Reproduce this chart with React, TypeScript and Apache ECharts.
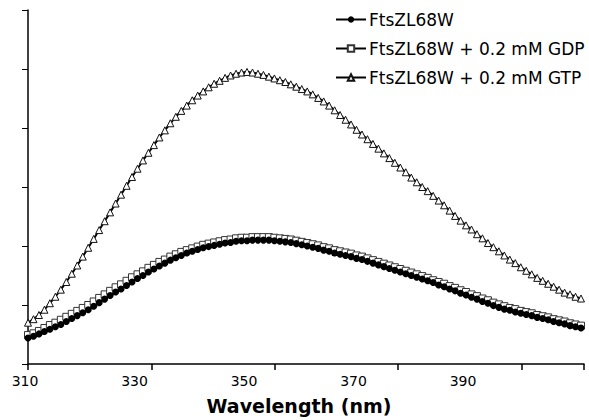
import React, { useEffect, useRef } from "react";
import * as echarts from "echarts";

// Wavelengths (nm), 1 nm steps
const wavelengths: number[] = [];
for (let w = 310; w <= 411; w++) wavelengths.push(w);

const seriesNames = [
  "FtsZL68W",
  "FtsZL68W + 0.2 mM GDP",
  "FtsZL68W + 0.2 mM GTP",
];

const ftsz: number[] = [
  44, 47, 51, 55, 59, 63, 67, 72, 77, 82,
  87, 92, 98, 104, 110, 116, 122, 127, 133, 139,
  145, 150, 156, 161, 166, 171, 176, 180, 184, 188,
  191, 194, 197, 199, 201, 203, 205, 206, 208, 209,
  209, 210, 210, 210, 210, 209, 208, 207, 206, 204,
  202, 200, 198, 196, 193, 191, 188, 186, 184, 182,
  179, 177, 174, 171, 168, 165, 162, 159, 156, 153,
  150, 147, 144, 141, 138, 134, 131, 127, 124, 120,
  117, 113, 110, 106, 103, 99, 96, 93, 91, 88,
  86, 84, 82, 79, 77, 75, 72, 70, 68, 65,
  63, 61,
];

const ftszGDP: number[] = [
  49, 52, 56, 61, 66, 70, 75, 80, 85, 90,
  95, 100, 106, 112, 118, 124, 130, 135, 141, 147,
  152, 157, 163, 168, 173, 177, 182, 186, 190, 193,
  196, 199, 202, 204, 206, 208, 210, 211, 213, 214,
  214, 215, 215, 215, 215, 214, 213, 212, 211, 209,
  207, 205, 203, 201, 198, 196, 193, 191, 189, 187,
  184, 182, 179, 176, 173, 170, 167, 164, 161, 158,
  155, 152, 149, 146, 142, 139, 136, 132, 129, 125,
  122, 118, 115, 111, 108, 104, 101, 98, 95, 93,
  90, 88, 86, 83, 81, 79, 76, 74, 72, 69,
  67, 65,
];

const ftszGTP: number[] = [
  70, 76, 83, 92, 103, 114, 126, 139, 153, 167,
  182, 197, 212, 227, 242, 257, 272, 287, 302, 317,
  331, 345, 358, 371, 384, 396, 408, 419, 429, 438,
  447, 455, 462, 469, 475, 480, 485, 489, 492, 494,
  495, 494, 492, 490, 487, 484, 481, 478, 474, 470,
  466, 462, 457, 451, 445, 438, 430, 422, 414, 406,
  397, 389, 381, 373, 365, 357, 349, 341, 333, 325,
  316, 308, 300, 293, 285, 277, 269, 260, 251, 243,
  235, 228, 220, 213, 205, 198, 191, 184, 177, 171,
  164, 158, 152, 146, 141, 136, 131, 126, 121, 118,
  114, 111,
];

const xTickLabels = [310, 330, 350, 370, 390];

const FONT = "DejaVu Sans";

export default function App() {
  const ref = useRef<HTMLDivElement>(null);
  useEffect(() => {
    if (!ref.current) return;
    const chart = echarts.init(ref.current, null, { renderer: "svg" });
    const pair = (vals: number[]) => wavelengths.map((w, i) => [w, vals[i]]);
    const lineStyle = { color: "#000", width: 2 };
    chart.setOption({
      animation: false,
      backgroundColor: "#fff",
      grid: { left: 28, right: 5, top: 10, bottom: 52 },
      legend: {
        orient: "vertical",
        left: 330,
        top: 6,
        itemWidth: 30,
        itemHeight: 8,
        itemGap: 12,
        data: seriesNames,
        textStyle: { fontFamily: FONT, fontSize: 17, color: "#000", padding: [0, 0, 0, -2] },
      },
      xAxis: [
        {
          type: "value",
          min: 310,
          max: 411.55,
          interval: 20,
          position: "bottom",
          axisLine: { show: true, lineStyle: { color: "#000", width: 1.5 } },
          axisTick: { show: false },
          splitLine: { show: false },
          axisLabel: {
            show: true,
            color: "#000",
            fontFamily: FONT,
            fontSize: 14,
            margin: 10,
            padding: [0, 6, 0, 0],
            formatter: (v: number) => (xTickLabels.includes(v) ? String(v) : ""),
          },
          name: "Wavelength (nm)",
          nameLocation: "middle",
          nameGap: 32,
          nameTextStyle: {
            fontFamily: FONT,
            fontSize: 19,
            fontWeight: "bold",
            color: "#000",
            padding: [0, 14, 0, 0],
          },
        },
        {
          type: "value",
          min: 0,
          max: 4.506,
          interval: 1,
          position: "bottom",
          axisLine: { show: false },
          axisLabel: { show: false },
          splitLine: { show: false },
          axisTick: { show: true, length: 6, lineStyle: { color: "#000", width: 1.5 } },
        },
      ],
      yAxis: {
        type: "value",
        min: 0,
        max: 600,
        interval: 100,
        axisLine: { show: true, lineStyle: { color: "#000", width: 1.5 } },
        axisTick: { show: true, length: 6, lineStyle: { color: "#000", width: 1 } },
        axisLabel: { show: false },
        splitLine: { show: false },
      },
      series: [
        {
          name: seriesNames[1],
          type: "line",
          data: pair(ftszGDP),
          symbol: "rect",
          symbolSize: 7,
          z: 2,
          lineStyle,
          itemStyle: { color: "#fff", borderColor: "#333", borderWidth: 1 },
        },
        {
          name: seriesNames[0],
          type: "line",
          data: pair(ftsz),
          symbol: "circle",
          symbolSize: 7,
          z: 3,
          lineStyle,
          itemStyle: { color: "#000", borderColor: "#000", borderWidth: 0 },
        },
        {
          name: seriesNames[2],
          type: "line",
          data: pair(ftszGTP),
          symbol: "triangle",
          symbolSize: 7,
          z: 4,
          lineStyle,
          itemStyle: { color: "#fff", borderColor: "#111", borderWidth: 1 },
        },
      ],
    });
    return () => chart.dispose();
  }, []);
  return (
    <div
      ref={ref}
      style={{ position: "fixed", left: 0, top: 0, width: 589, height: 420 }}
    />
  );
}
